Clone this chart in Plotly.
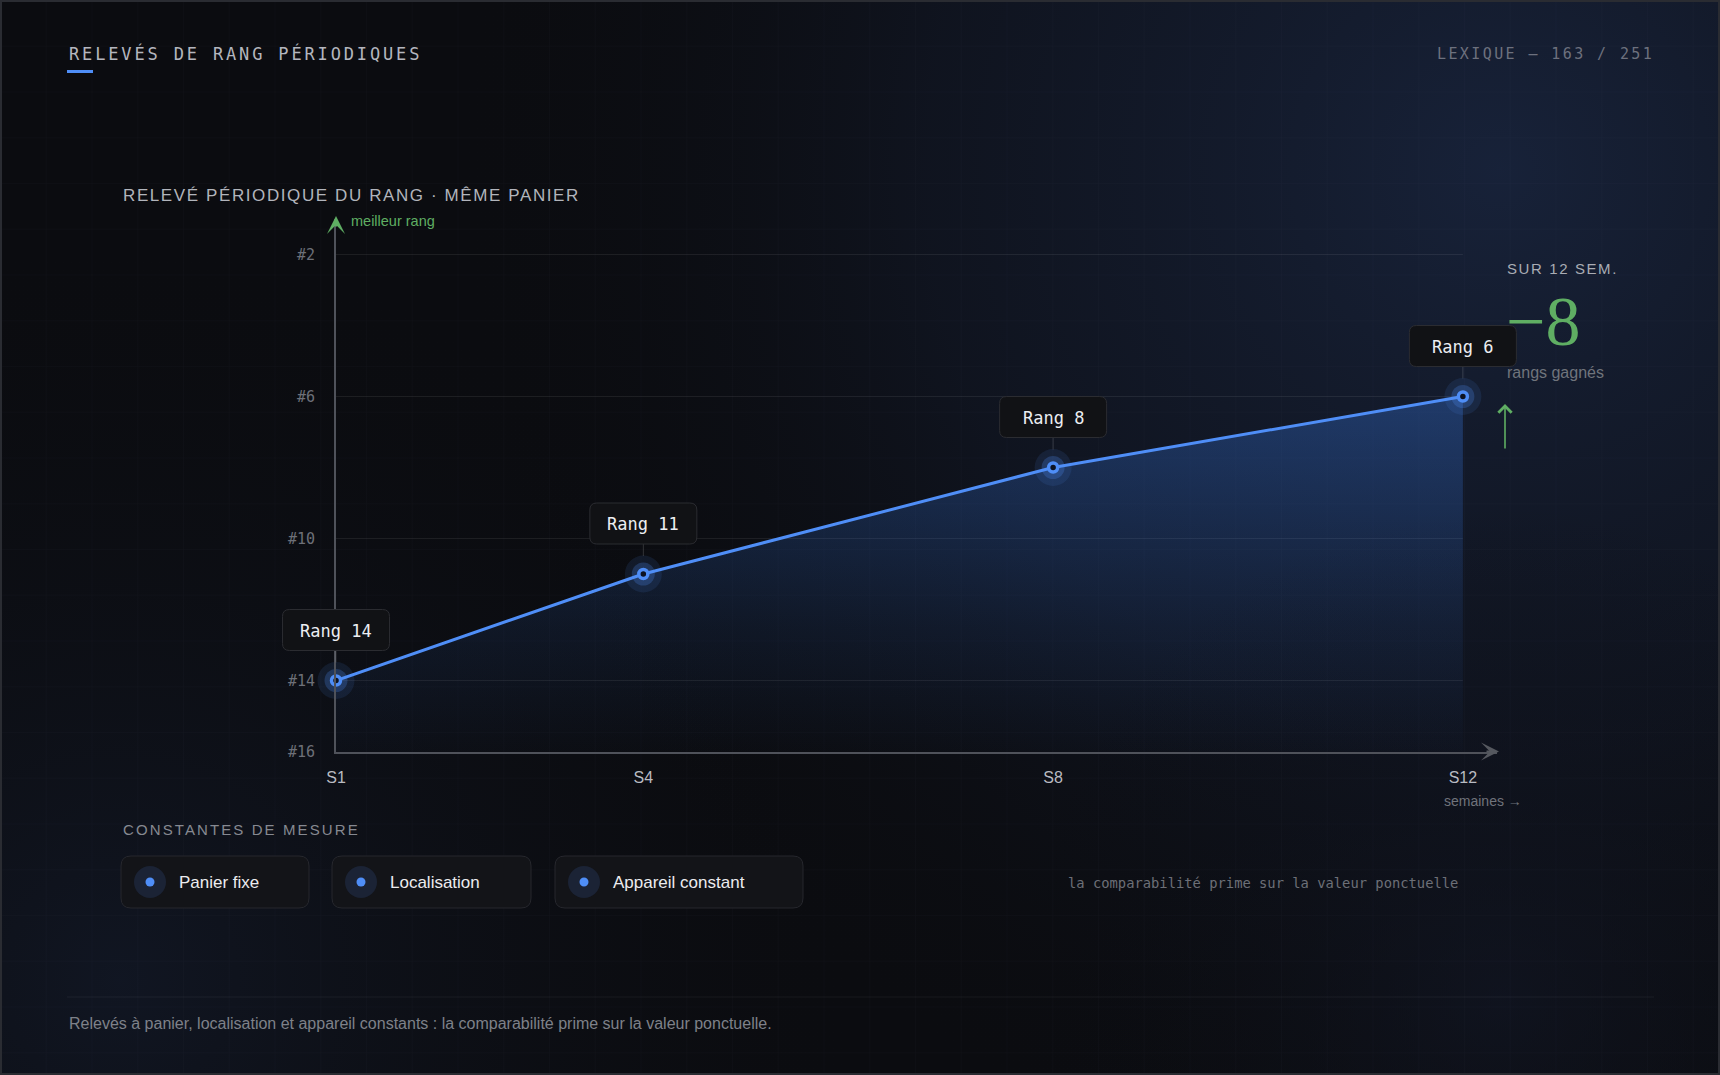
import base64
import plotly.graph_objects as go

W, H = 1720, 1075

# ---------------- data ----------------
weeks = [1, 4, 8, 12]
week_labels = ["S1", "S4", "S8", "S12"]
ranks = [14, 11, 8, 6]
rank_ticks = [2, 6, 10, 14, 16]
rank_tick_labels = ["#2", "#6", "#10", "#14", "#16"]
grid_ranks = [2, 6, 10, 14]
constants = ["Panier fixe", "Localisation", "Appareil constant"]

title = "RELEVÉS DE RANG PÉRIODIQUES"
counter = "LEXIQUE — 163 / 251"
subtitle = "RELEVÉ PÉRIODIQUE DU RANG · MÊME PANIER"
best_label = "meilleur rang"
x_title = "semaines →"
constants_title = "CONSTANTES DE MESURE"
side_note = "la comparabilité prime sur la valeur ponctuelle"
footer = "Relevés à panier, localisation et appareil constants : la comparabilité prime sur la valeur ponctuelle."

# ---------------- style ----------------
BLUE = "#4f8ef7"
GREEN = "#5fae63"
MONO = "DejaVu Sans Mono"
SANS = "Liberation Sans"
SERIF = "Liberation Serif"

X_RANGE = [1, 12.333]
X_DOM_PX = [336, 1497]
Y_RANGE = [16, 1]
Y_DOM_PX = [751.5, 219]
# wider overlay subplot with identical scale (for label boxes, avoids clipping)
X2_RANGE = [0.3, 12.8]
LABEL_HALF_W = 53.5


def px(x):
    return x / W


def py(y):
    return 1 - y / H


def spaced(text, ls):
    return f'<span style="letter-spacing:{ls}px">{text}</span>'


# background svg
G = 45.75
svg = f'''<svg xmlns="http://www.w3.org/2000/svg" width="{W}" height="{H}" viewBox="0 0 {W} {H}" preserveAspectRatio="none">
<defs>
<radialGradient id="g1" cx="1500" cy="170" r="1050" gradientUnits="userSpaceOnUse">
<stop offset="0" stop-color="#18233b" stop-opacity="0.95"/>
<stop offset="0.55" stop-color="#131a2b" stop-opacity="0.55"/>
<stop offset="1" stop-color="#0b0c10" stop-opacity="0"/>
</radialGradient>
<radialGradient id="g2" cx="120" cy="980" r="750" gradientUnits="userSpaceOnUse">
<stop offset="0" stop-color="#131a2a" stop-opacity="0.7"/>
<stop offset="1" stop-color="#0b0c10" stop-opacity="0"/>
</radialGradient>
<radialGradient id="g3" cx="1500" cy="1000" r="500" gradientUnits="userSpaceOnUse">
<stop offset="0" stop-color="#121726" stop-opacity="0.6"/>
<stop offset="1" stop-color="#0b0c10" stop-opacity="0"/>
</radialGradient>
<pattern id="grid" width="{G}" height="{G}" patternUnits="userSpaceOnUse">
<path d="M{G} 0 L0 0 0 {G}" fill="none" stroke="#9fb4dc" stroke-opacity="0.035" stroke-width="1"/>
</pattern>
</defs>
<rect width="{W}" height="{H}" fill="#0b0c10"/>
<rect width="{W}" height="{H}" fill="url(#g1)"/>
<rect width="{W}" height="{H}" fill="url(#g2)"/>
<rect width="{W}" height="{H}" fill="url(#g3)"/>
<rect width="{W}" height="{H}" fill="url(#grid)"/>
<rect x="1" y="1" width="{W-2}" height="{H-2}" fill="none" stroke="#2a2c32" stroke-width="2"/>
</svg>'''
bg_uri = "data:image/svg+xml;base64," + base64.b64encode(svg.encode("utf-8")).decode("ascii")

fig = go.Figure()

# area base + line with gradient fill
fig.add_trace(go.Scatter(
    x=weeks, y=[rank_ticks[-1]] * len(weeks), mode="lines",
    line=dict(width=0, color="rgba(0,0,0,0)"), hoverinfo="skip", showlegend=False,
))
fig.add_trace(go.Scatter(
    x=weeks, y=ranks, mode="lines", fill="tonexty",
    fillgradient=dict(type="vertical", start=16, stop=6,
                      colorscale=[[0, "rgba(59,130,246,0.01)"], [0.35, "rgba(59,130,246,0.09)"],
                                  [1, "rgba(59,130,246,0.30)"]]),
    line=dict(color=BLUE, width=3), hoverinfo="skip", showlegend=False,
))
# halos + points
for size, color, lw in [(37, "rgba(79,142,247,0.11)", 0), (23, "rgba(79,142,247,0.24)", 0), (9, "#0d1322", 3.5)]:
    fig.add_trace(go.Scatter(
        x=weeks, y=ranks, mode="markers", cliponaxis=False,
        marker=dict(size=size, color=color, line=dict(width=lw, color=BLUE)),
        hoverinfo="skip", showlegend=False,
    ))

shapes = []
annotations = []

# gridlines limited to data span
for g in grid_ranks:
    shapes.append(dict(type="line", xref="x", yref="y", x0=weeks[0], x1=weeks[-1], y0=g, y1=g,
                       line=dict(color="rgba(255,255,255,0.075)", width=1), layer="below"))


def rrect_pixel(x0, y0, x1, y1, r):
    return (f"M{x0 + r},{y0} L{x1 - r},{y0} Q{x1},{y0} {x1},{y0 + r} L{x1},{y1 - r} "
            f"Q{x1},{y1} {x1 - r},{y1} L{x0 + r},{y1} Q{x0},{y1} {x0},{y1 - r} "
            f"L{x0},{y0 + r} Q{x0},{y0} {x0 + r},{y0} Z")


# value labels (on the wider overlay subplot x2/y2, same scale)
for w, r in zip(weeks, ranks):
    label = f"Rang {r}"
    hw = LABEL_HALF_W
    shapes.append(dict(type="line", xref="x2", yref="y2", xsizemode="pixel", ysizemode="pixel",
                       xanchor=w, yanchor=r, x0=0, x1=0, y0=18, y1=30,
                       line=dict(color="rgba(255,255,255,0.16)", width=1), layer="above"))
    shapes.append(dict(type="path", xref="x2", yref="y2", xsizemode="pixel", ysizemode="pixel",
                       xanchor=w, yanchor=r, path=rrect_pixel(-hw, 30, hw, 71, 7),
                       fillcolor="#111215", line=dict(color="#2b2c31", width=1), layer="above"))
    annotations.append(dict(x=w, y=r, xref="x2", yref="y2", yshift=50, text=label, showarrow=False,
                            font=dict(family=MONO, size=17, color="#eceef2"),
                            xanchor="center", yanchor="middle"))

# axis arrows
annotations.append(dict(x=px(1499), y=py(751.5), xref="paper", yref="paper", ax=-14, ay=0,
                        text="", showarrow=True, arrowhead=3, arrowsize=1.5, arrowwidth=2,
                        arrowcolor="#55585f"))
annotations.append(dict(x=px(336), y=py(216), xref="paper", yref="paper", ax=0, ay=12,
                        text="", showarrow=True, arrowhead=3, arrowsize=1.5, arrowwidth=2,
                        arrowcolor=GREEN))
annotations.append(dict(x=px(349), y=py(221), xref="paper", yref="paper", text=best_label,
                        showarrow=False, xanchor="left", yanchor="middle",
                        font=dict(family=SANS, size=14.5, color=GREEN)))
annotations.append(dict(x=px(1442), y=py(801), xref="paper", yref="paper", text=x_title,
                        showarrow=False, xanchor="left", yanchor="middle",
                        font=dict(family=SANS, size=14, color="#70737b")))

# header
annotations.append(dict(x=px(67), y=py(53), xref="paper", yref="paper", text=spaced(title, 2.85),
                        showarrow=False, xanchor="left", yanchor="middle",
                        font=dict(family=MONO, size=17, color="#b4b6be")))
shapes.append(dict(type="rect", xref="paper", yref="paper", x0=px(67), x1=px(93), y0=py(73), y1=py(70),
                   fillcolor=BLUE, line=dict(width=0)))
annotations.append(dict(x=px(1656), y=py(54), xref="paper", yref="paper", text=spaced(counter, 2.4),
                        showarrow=False, xanchor="right", yanchor="middle",
                        font=dict(family=MONO, size=15, color="#6d717e")))
annotations.append(dict(x=px(121), y=py(195), xref="paper", yref="paper", text=spaced(subtitle, 1.6),
                        showarrow=False, xanchor="left", yanchor="middle",
                        font=dict(family=SANS, size=17, color="#b2b5bc")))

# right summary
delta = ranks[-1] - ranks[0]
annotations.append(dict(x=px(1505), y=py(269), xref="paper", yref="paper",
                        text=spaced(f"SUR {weeks[-1]} SEM.", 1.6),
                        showarrow=False, xanchor="left", yanchor="middle",
                        font=dict(family=SANS, size=15, color="#a9acb4")))
annotations.append(dict(x=px(1504), y=py(322), xref="paper", yref="paper",
                        text=("−" if delta < 0 else "+") + str(abs(delta)),
                        showarrow=False, xanchor="left", yanchor="middle",
                        font=dict(family=SERIF, size=70, color=GREEN)))
annotations.append(dict(x=px(1505), y=py(372), xref="paper", yref="paper", text="rangs gagnés",
                        showarrow=False, xanchor="left", yanchor="middle",
                        font=dict(family=SANS, size=16, color="#70747c")))
annotations.append(dict(x=px(1505), y=py(404), xref="paper", yref="paper", ax=0, ay=46,
                        text="", showarrow=True, arrowhead=4, arrowsize=1.6, arrowwidth=1.6,
                        arrowcolor=GREEN))


def rrect_paper(x0, y0, x1, y1, r):
    def P(x, y):
        return f"{px(x)},{py(y)}"
    return (f"M{P(x0 + r, y0)} L{P(x1 - r, y0)} Q{P(x1, y0)} {P(x1, y0 + r)} L{P(x1, y1 - r)} "
            f"Q{P(x1, y1)} {P(x1 - r, y1)} L{P(x0 + r, y1)} Q{P(x0, y1)} {P(x0, y1 - r)} "
            f"L{P(x0, y0 + r)} Q{P(x0, y0)} {P(x0 + r, y0)} Z")


# constants
annotations.append(dict(x=px(121), y=py(829), xref="paper", yref="paper", text=spaced(constants_title, 2.1),
                        showarrow=False, xanchor="left", yanchor="middle",
                        font=dict(family=SANS, size=15, color="#868991")))
pill_boxes = [(121, 309), (332, 531), (555, 803)]
for name, (x0, x1) in zip(constants, pill_boxes):
    shapes.append(dict(type="path", xref="paper", yref="paper", path=rrect_paper(x0, 856, x1, 908, 10),
                       fillcolor="#131418", line=dict(color="#26272d", width=1)))
    cx, cy = x0 + 29, 882
    shapes.append(dict(type="circle", xref="paper", yref="paper", x0=px(cx - 16), x1=px(cx + 16),
                       y0=py(cy + 16), y1=py(cy - 16), fillcolor="#1b2335", line=dict(width=0)))
    shapes.append(dict(type="circle", xref="paper", yref="paper", x0=px(cx - 4.5), x1=px(cx + 4.5),
                       y0=py(cy + 4.5), y1=py(cy - 4.5), fillcolor=BLUE, line=dict(width=0)))
    annotations.append(dict(x=px(x0 + 56), y=py(cy), xref="paper", yref="paper", text=name,
                            showarrow=False, xanchor="left", yanchor="middle",
                            font=dict(family=SANS, size=17, color="#ececef")))

annotations.append(dict(x=px(1066), y=py(883), xref="paper", yref="paper", text=side_note,
                        showarrow=False, xanchor="left", yanchor="middle",
                        font=dict(family=MONO, size=13.8, color="#6c6f77")))

# footer
shapes.append(dict(type="line", xref="paper", yref="paper", x0=px(67), x1=px(1654), y0=py(997), y1=py(997),
                   line=dict(color="rgba(255,255,255,0.06)", width=1)))
annotations.append(dict(x=px(67), y=py(1023), xref="paper", yref="paper", text=footer,
                        showarrow=False, xanchor="left", yanchor="middle",
                        font=dict(family=SANS, size=16, color="#7e8189")))

ppw = (X_DOM_PX[1] - X_DOM_PX[0]) / (X_RANGE[1] - X_RANGE[0])
x2_dom = [X_DOM_PX[0] + (X2_RANGE[0] - X_RANGE[0]) * ppw, X_DOM_PX[0] + (X2_RANGE[1] - X_RANGE[0]) * ppw]

fig.update_layout(
    width=W, height=H, autosize=False,
    margin=dict(l=0, r=0, t=0, b=0, pad=0, autoexpand=False),
    paper_bgcolor="#0b0c10", plot_bgcolor="rgba(0,0,0,0)",
    showlegend=False, hovermode=False,
    images=[dict(source=bg_uri, xref="paper", yref="paper", x=0, y=1, sizex=1, sizey=1,
                 sizing="stretch", layer="below", xanchor="left", yanchor="top")],
    xaxis=dict(domain=[px(X_DOM_PX[0]), px(X_DOM_PX[1])], range=X_RANGE, tickvals=weeks, ticktext=week_labels,
               showgrid=False, zeroline=False, showline=True, linecolor="#4f525a", linewidth=2,
               ticks="", ticklabelstandoff=10, fixedrange=True, automargin=False,
               tickfont=dict(family=SANS, size=16, color="#b9bbc2")),
    yaxis=dict(domain=[py(Y_DOM_PX[0]), py(Y_DOM_PX[1])], range=Y_RANGE, tickvals=rank_ticks,
               ticktext=rank_tick_labels, automargin=False,
               showgrid=False, zeroline=False, showline=True, linecolor="#4f525a", linewidth=2,
               ticks="", ticklabelstandoff=16, fixedrange=True,
               tickfont=dict(family=MONO, size=15, color="#6d7078")),
    xaxis2=dict(domain=[px(x2_dom[0]), px(x2_dom[1])], range=X2_RANGE, visible=False, fixedrange=True,
                anchor="y2", automargin=False),
    yaxis2=dict(domain=[py(Y_DOM_PX[0]), py(Y_DOM_PX[1])], range=Y_RANGE, visible=False, fixedrange=True,
                anchor="x2", automargin=False),
    shapes=shapes, annotations=annotations,
)

fig.write_html("out.html", config={"displayModeBar": False})
